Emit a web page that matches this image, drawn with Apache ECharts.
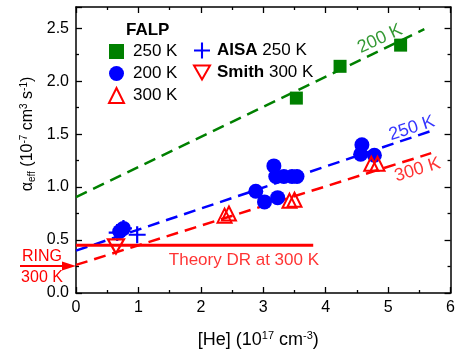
<!DOCTYPE html>
<html><head><meta charset="utf-8">
<script src="https://cdn.jsdelivr.net/npm/echarts@6/dist/echarts.min.js"></script>
<style>html,body{margin:0;padding:0;background:#fff}#c{width:458px;height:354px}</style>
</head><body><div id="c"></div>
<script>
// ---- data ----
const xTicks = [0, 1, 2, 3, 4, 5, 6];
const yTicks = [0, 0.5, 1.0, 1.5, 2.0, 2.5];
const falp250 = [[3.53, 1.84], [4.23, 2.14], [5.20, 2.34]];
const falp200 = [[0.70, 0.58], [0.76, 0.61], [2.88, 0.96], [3.02, 0.86], [3.23, 0.90],
                 [3.17, 1.20], [3.20, 1.10], [3.33, 1.10], [3.46, 1.10], [3.54, 1.10],
                 [4.58, 1.40], [4.56, 1.31], [4.78, 1.30]];
const falp300 = [[2.38, 0.73], [2.45, 0.75], [3.42, 0.87], [3.50, 0.88], [4.73, 1.22], [4.83, 1.22]];
const aisa250 = [[0.66, 0.57], [0.76, 0.61], [0.98, 0.55]];
const smith300 = [[0.64, 0.44]];
const fit200 = [[0, 0.905], [5.58, 2.49]];
const fit250 = [[0, 0.40], [5.69, 1.53]];
const fit300 = [[0, 0.265], [5.69, 1.32]];
const theoryDR = [[0, 0.45], [3.8, 0.45]];
const ringValue = 0.255;

const FONT = 'Liberation Sans, Arial, sans-serif';
const GREEN = '#008000', BLUE = '#0000ff', RED = '#ff0000';
const PLUS = 'path://M-1.3,-10 L1.3,-10 L1.3,-1.3 L10,-1.3 L10,1.3 L1.3,1.3 L1.3,10 L-1.3,10 L-1.3,1.3 L-10,1.3 L-10,-1.3 L-1.3,-1.3 Z';
const DOWN = 'path://M0,0 L20,0 L10,17.3 Z';

const chart = echarts.init(document.getElementById('c'), null, {renderer: 'canvas'});

function axisX(pos, labels) {
  return {
    type: 'value', position: pos, min: xTicks[0], max: xTicks[xTicks.length - 1], interval: xTicks[1] - xTicks[0],
    axisLine: {show: true, onZero: false, lineStyle: {color: '#000', width: 1.5}},
    axisTick: {show: true, inside: true, length: 6, lineStyle: {color: '#000', width: 1.3}},
    minorTick: {show: true, splitNumber: 2, length: 3, lineStyle: {color: '#000', width: 1.3}},
    splitLine: {show: false}, minorSplitLine: {show: false},
    axisLabel: {show: labels, fontSize: 16, color: '#000', fontFamily: FONT, margin: 7},
  };
}
function axisY(pos, labels) {
  return {
    type: 'value', position: pos, min: 0, max: 2.7, interval: yTicks[1] - yTicks[0],
    axisLine: {show: true, onZero: false, lineStyle: {color: '#000', width: 1.5}},
    axisTick: {show: true, inside: true, length: 6, lineStyle: {color: '#000', width: 1.3}},
    minorTick: {show: true, splitNumber: 2, length: 3, lineStyle: {color: '#000', width: 1.3}},
    splitLine: {show: false}, minorSplitLine: {show: false},
    axisLabel: {show: labels, fontSize: 16, color: '#000', fontFamily: FONT, margin: 7, showMaxLabel: false,
      formatter: v => yTicks.some(t => Math.abs(t - v) < 1e-9) ? v.toFixed(1) : ''},
  };
}

const xb = axisX('bottom', true);
xb.name = '[He] (10{sup|17} cm{sup|-3})';
xb.nameLocation = 'middle';
xb.nameGap = 37;
xb.nameTextStyle = {fontSize: 18, color: '#000', fontFamily: FONT, padding: [0, 10, 0, 0],
  rich: {sup: {fontSize: 11, color: '#000', fontFamily: FONT, verticalAlign: 'top', padding: [0, 0, 9, 0]}}};

function fitLine(name, data, color) {
  return {name, type: 'line', data, showSymbol: false, silent: true, xAxisIndex: 0, yAxisIndex: 0,
    lineStyle: {color, width: 2.5, type: [12, 7]}, z: 2};
}
function textMark(text, coord, color, rotate, size) {
  return {type: 'scatter', data: [coord], symbolSize: 0, silent: true,
    label: {show: true, position: 'inside', formatter: text, color, fontSize: size, fontFamily: FONT, rotate}, z: 5};
}

const option = {
  animation: false,
  backgroundColor: '#fff',
  grid: {left: 76, right: 2, top: 7, bottom: 59},
  title: {text: 'FALP', left: 121, top: 17, textStyle: {fontSize: 17, fontWeight: 'bold', color: '#000', fontFamily: FONT}},
  legend: [
    {data: ['FALP 250 K', 'FALP 200 K', 'FALP 300 K'], orient: 'vertical', left: 103, top: 38,
      itemWidth: 15, itemHeight: 15, itemGap: 5, formatter: n => n.replace('FALP ', ''),
      textStyle: {fontSize: 17, color: '#000', fontFamily: FONT, padding: [0, 0, 0, 4]}},
    {data: ['AISA 250 K', 'Smith 300 K'], orient: 'vertical', left: 188, top: 37,
      itemWidth: 16, itemHeight: 16, itemGap: 5,
      formatter: n => { const i = n.indexOf(' '); return '{b|' + n.slice(0, i) + '}' + n.slice(i); },
      textStyle: {fontSize: 17, color: '#000', fontFamily: FONT, padding: [0, 0, 0, 2],
        rich: {b: {fontSize: 17, fontWeight: 'bold', color: '#000', fontFamily: FONT}}}}
  ],
  xAxis: [xb, axisX('top', false)],
  yAxis: [axisY('left', true), axisY('right', false)],
  series: [
    fitLine('fit200', fit200, GREEN),
    fitLine('fit250', fit250, BLUE),
    fitLine('fit300', fit300, RED),
    {name: 'theory', type: 'line', data: theoryDR, showSymbol: false, silent: true,
      lineStyle: {color: RED, width: 3}, z: 2},
    {name: 'FALP 250 K', type: 'scatter', data: falp250, symbol: 'rect', symbolSize: 13,
      itemStyle: {color: GREEN, opacity: 1}, z: 3},
    {name: 'FALP 200 K', type: 'scatter', data: falp200, symbol: 'circle', symbolSize: 15,
      itemStyle: {color: BLUE, opacity: 1}, z: 3},
    {name: 'FALP 300 K', type: 'scatter', data: falp300, symbol: 'triangle', symbolSize: 14,
      itemStyle: {color: 'rgba(255,255,255,0)', borderColor: RED, borderWidth: 2, opacity: 1}, z: 4},
    {name: 'AISA 250 K', type: 'scatter', data: aisa250, symbol: PLUS, symbolSize: 17,
      itemStyle: {color: BLUE, opacity: 1}, z: 4},
    {name: 'Smith 300 K', type: 'scatter', data: smith300, symbol: DOWN, symbolSize: [16, 14],
      itemStyle: {color: 'rgba(255,255,255,0)', borderColor: RED, borderWidth: 2.2, opacity: 1}, z: 4},
    textMark('200 K', [4.87, 2.40], GREEN, 25, 18),
    textMark('250 K', [5.38, 1.555], BLUE, 18, 18),
    textMark('300 K', [5.47, 1.163], RED, 17, 18),
    textMark('Theory DR at 300 K', [2.69, 0.31], RED, 0, 17),
  ]
};
chart.setOption(option);

// annotations outside the plot, anchored through the axes
const tip = chart.convertToPixel({xAxisIndex: 0, yAxisIndex: 0}, [0, ringValue]);
chart.setOption({graphic: [
  {type: 'line', shape: {x1: 20, y1: tip[1], x2: tip[0] - 12, y2: tip[1]}, style: {stroke: RED, lineWidth: 2}, silent: true},
  {type: 'polygon', shape: {points: [[tip[0] - 14, tip[1] - 4.5], [tip[0], tip[1]], [tip[0] - 14, tip[1] + 4.5]]}, style: {fill: RED}, silent: true},
  {type: 'text', x: 42, y: tip[1] - 1, style: {text: 'RING', fill: RED, fontSize: 16, fontFamily: FONT, align: 'center', verticalAlign: 'bottom'}, silent: true},
  {type: 'text', x: 42, y: tip[1] + 4, style: {text: '300 K', fill: RED, fontSize: 16, fontFamily: FONT, align: 'center', verticalAlign: 'top'}, silent: true},
  {type: 'text', x: 28, y: 134, rotation: Math.PI / 2, silent: true,
    style: {text: 'α{sub|eff} (10{sup|-7} cm{sup|3} s{sup|-1})', fill: '#000', fontSize: 16, fontFamily: FONT,
      align: 'center', verticalAlign: 'middle',
      rich: {sub: {fontSize: 10, fontFamily: FONT, fill: '#000', verticalAlign: 'bottom', padding: [4, 0, 0, 0]},
             sup: {fontSize: 10, fontFamily: FONT, fill: '#000', verticalAlign: 'top', padding: [0, 0, 8, 0]}}}}
]});
</script>
</body></html>
